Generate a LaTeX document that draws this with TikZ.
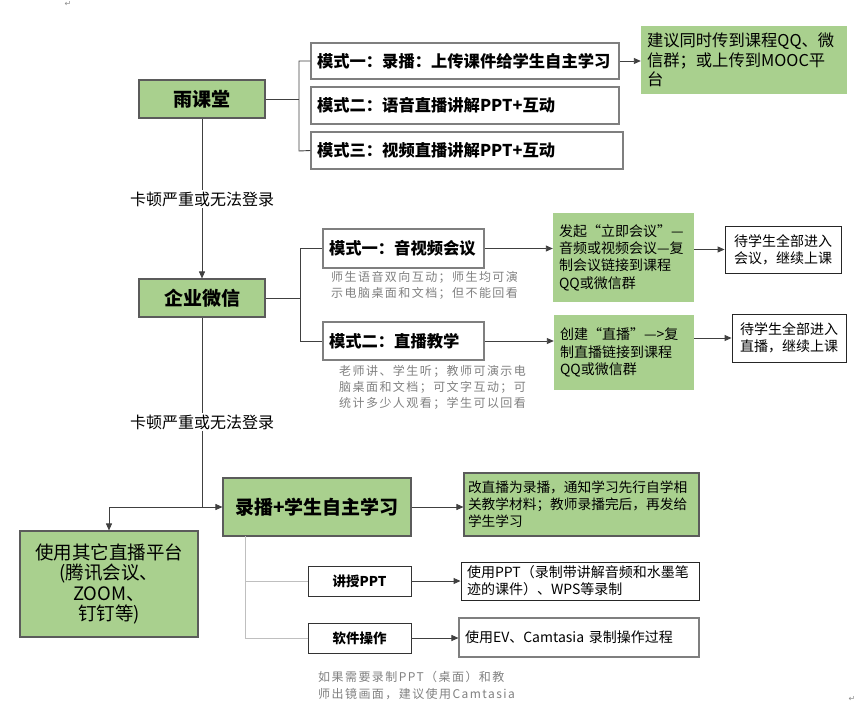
\documentclass[tikz,border=0pt]{standalone}
\usepackage{fontspec}
\setmainfont{Noto Sans CJK SC}
\newfontfamily\subfont{Noto Sans CJK SC}[LetterSpace=12]
\newfontfamily\symfont{DejaVu Sans}
\usetikzlibrary{arrows.meta,calc}
\definecolor{gfill}{HTML}{A9D08E}
\definecolor{gborder}{HTML}{5B5B5B}
\definecolor{wborder}{HTML}{7F7F7F}
\definecolor{lineg}{HTML}{404040}
\definecolor{lightl}{HTML}{BFBFBF}
\definecolor{subg}{HTML}{808080}
\begin{document}
\begin{tikzpicture}[x=1pt,y=-1pt,
  wbox/.style={draw=wborder, line width=1.1pt, fill=white, inner xsep=6pt, inner ysep=2pt, align=left},
  kbox/.style={draw=black!85, line width=0.9pt, fill=white, inner xsep=6pt, inner ysep=2pt},
  gbox/.style={draw=gborder, line width=1.1pt, fill=gfill, align=center, inner sep=2pt},
  gplain/.style={fill=gfill, draw=none, inner xsep=6pt, inner ysep=2pt, align=left},
  conn/.style={draw=lineg, line width=0.9pt},
  lconn/.style={draw=lightl, line width=0.9pt},
  arr/.style={conn, -{Triangle[length=7pt,width=6pt]}},
  subtxt/.style={anchor=north west, inner sep=0pt, text=subg, align=left, font=\subfont\fontsize{12}{16}\selectfont},
  lab/.style={fill=white, inner xsep=1pt, inner ysep=2pt, font=\fontsize{16}{18}\selectfont}
]
\useasboundingbox (0,0) rectangle (867,717);

% paragraph marks
\node[text=black!45, font=\symfont\fontsize{8}{8}\selectfont, inner sep=0] (pm1) at (68,4) {↵};
\node[text=black!45, font=\symfont\fontsize{8}{8}\selectfont, inner sep=0] (pm2) at (852,699) {↵};

% ---------- 雨课堂 ----------
\node[gbox, minimum width=126, minimum height=38, font=\bfseries\fontsize{19}{22}\selectfont] (yu) at (202,99) {雨课堂};
\node[wbox, minimum width=308, minimum height=36, text width=296, font=\bfseries\fontsize{16.3}{19}\selectfont] (m1) at (465,61) {模式一：录播：上传课件给学生自主学习};
\node[wbox, minimum width=308, minimum height=37, text width=296, font=\bfseries\fontsize{16.3}{19}\selectfont] (m2) at (465,105.5) {模式二：语音直播讲解PPT+互动};
\node[wbox, minimum width=312, minimum height=37, text width=300, font=\bfseries\fontsize{16.3}{19}\selectfont] (m3) at (467,150.5) {模式三：视频直播讲解PPT+互动};
\node[gplain, minimum width=206, minimum height=68, text width=194, font=\fontsize{16.3}{19.5}\selectfont] (s1) at (744,60) {建议同时传到课程QQ、微\\信群；或上传到MOOC平\\台};

\coordinate (b1t) at (299,61);
\coordinate (b1m) at (299,99);
\coordinate (b1b) at (299,151);
\draw[conn] (yu.east) -- (b1m);
\draw[conn] (m1.west) -- (b1t) -- (b1b) -- (m3.west);
\draw[arr] (m1.east) -- (m1.east -| s1.west);

% ---------- 企业微信 ----------
\node[gbox, minimum width=126, minimum height=38, font=\bfseries\fontsize{19}{22}\selectfont] (qy) at (202,298) {企业微信};
\draw[arr] (yu.south) -- (qy.north);
\node[lab] (lab1) at (202,199) {卡顿严重或无法登录};

\node[wbox, minimum width=161, minimum height=39, text width=149, font=\bfseries\fontsize{16.3}{19}\selectfont] (q1) at (403.5,248.5) {模式一：音视频会议};
\node[wbox, minimum width=161, minimum height=38, text width=149, font=\bfseries\fontsize{16.3}{19}\selectfont] (q2) at (403.5,341) {模式二：直播教学};
\node[subtxt] (q1s) at (331,271) {师生语音双向互动；师生均可演\\示电脑桌面和文档；但不能回看};
\node[subtxt] (q2s) at (339,365) {老师讲、学生听；教师可演示电\\脑桌面和文档；可文字互动；可\\统计多少人观看；学生可以回看};

\coordinate (b2t) at (300,248.5);
\coordinate (b2m) at (300,298);
\coordinate (b2b) at (300,341);
\draw[conn] (qy.east) -- (b2m);
\draw[conn] (q1.west) -- (b2t) -- (b2b) -- (q2.west);

\node[gplain, minimum width=141, minimum height=89, text width=129, font=\fontsize{14}{17.3}\selectfont] (g1) at (623.5,257.5) {发起“立即会议”—\\音频或视频会议—复\\制会议链接到课程\\QQ或微信群};
\node[gplain, minimum width=140, minimum height=75, text width=128, font=\fontsize{14}{17.3}\selectfont] (g2) at (624,352.5) {创建“直播”—>复\\制直播链接到课程\\QQ或微信群};
\node[kbox, minimum width=116, minimum height=47, align=center, font=\fontsize{14}{17}\selectfont] (w1) at (783,249.5) {待学生全部进入\\会议，继续上课};
\node[kbox, minimum width=114, minimum height=48, align=center, font=\fontsize{14}{17}\selectfont] (w2) at (789,338) {待学生全部进入\\直播，继续上课};

\draw[arr] (q1.east) -- (q1.east -| g1.west);
\draw[arr] (q2.east) -- (q2.east -| g2.west);
\draw[arr] (g1.east |- w1.west) -- (w1.west);
\draw[arr] (g2.east |- w2.west) -- (w2.west);

% ---------- 录播 ----------
\node[gbox, minimum width=188, minimum height=58, font=\bfseries\fontsize{19}{22}\selectfont] (rec) at (317,507) {录播+学生自主学习};
\node[gbox, minimum width=178, minimum height=106, font=\fontsize{18.5}{20.5}\selectfont] (other) at (109,584) {使用其它直播平台\\(腾讯会议、\\ZOOM、\\钉钉等)};
\coordinate (j1) at (202,507);
\coordinate (j2) at (109,507);
\draw[conn] (qy.south) -- (j1);
\node[lab] (lab2) at (202,422) {卡顿严重或无法登录};
\draw[arr] (j1) -- (rec.west);
\draw[arr] (j1) -- (j2) -- (other.north);

\node[gbox, minimum width=235, minimum height=63, text width=227, inner xsep=4pt, align=left, font=\fontsize{13.7}{16.8}\selectfont] (g3) at (581.5,504.5) {改直播为录播，通知学习先行自学相\\关教学材料；教师录播完后，再发给\\学生学习};
\draw[arr] (rec.east) -- (rec.east -| g3.west);

\node[kbox, draw=black!80, minimum width=103, minimum height=30, align=center, font=\bfseries\fontsize{13.5}{16}\selectfont] (ppt) at (359.5,581) {讲授PPT};
\node[kbox, draw=black!80, minimum width=103, minimum height=30, align=center, font=\bfseries\fontsize{13.5}{16}\selectfont] (soft) at (359.5,638) {软件操作};
\coordinate (r1) at (245,536);
\coordinate (r2) at (245,581);
\coordinate (r3) at (245,638);
\draw[lconn] (r1) -- (r3) -- (soft.west);
\draw[lconn] (r2) -- (ppt.west);

\node[kbox, minimum width=238, minimum height=38, text width=226, align=left, font=\fontsize{14}{17}\selectfont] (bx1) at (580,581) {使用PPT（录制带讲解音频和水墨笔\\迹的课件）、WPS等录制};
\node[wbox, minimum width=240, minimum height=39, text width=228, font=\fontsize{14}{17}\selectfont] (bx2) at (579,637.5) {使用EV、Camtasia 录制操作过程};
\draw[arr] (ppt.east) -- (ppt.east -| bx1.west);
\draw[arr] (soft.east) -- (soft.east -| bx2.west);

\node[subtxt, font=\subfont\fontsize{12}{17}\selectfont] (note) at (318,671) {如果需要录制PPT（桌面）和教\\师出镜画面，建议使用Camtasia};
\end{tikzpicture}
\end{document}
